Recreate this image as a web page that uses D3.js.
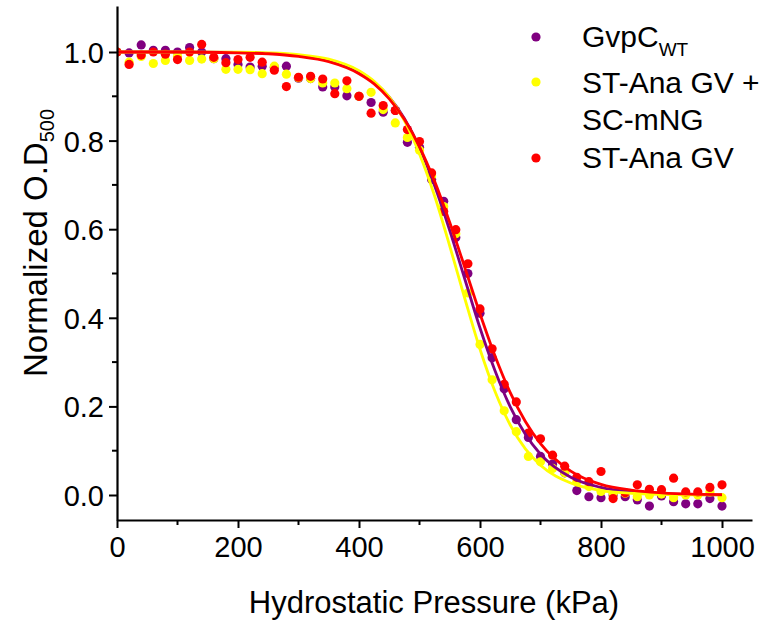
<!DOCTYPE html>
<html><head><meta charset="utf-8">
<script src="https://cdn.jsdelivr.net/npm/d3@7"></script>
<style>
html,body{margin:0;padding:0;background:#fff;}
svg text{font-family:"Liberation Sans",Arial,sans-serif;fill:#000;}
</style></head>
<body><svg id="c" width="767" height="622"></svg>
<script>
const pressure = d3.range(0, 1001, 20); // 0..1000 kPa, 20 kPa steps
const seriesNames = ["GvpC_WT", "ST-Ana GV + SC-mNG", "ST-Ana GV"];
const gvpcWT = [1.0,0.998,1.016,1.004,1.004,1.0,1.01,1.0,0.985,0.985,0.972,0.966,0.968,0.965,0.968,0.941,0.94,0.921,0.921,0.901,0.90,0.886,0.864,0.868,0.796,0.785,0.712,0.663,0.581,0.50,0.41,0.31,0.24,0.17,0.13,0.087,0.07,0.05,0.01,-0.004,-0.006,0.0,-0.004,-0.011,-0.025,-0.002,-0.015,-0.02,-0.02,-0.008,-0.025];
const stAnaMNG = [1.0,0.977,0.99,0.974,0.981,0.99,0.981,0.984,0.985,0.961,0.961,0.96,0.951,0.968,0.95,0.942,0.94,0.93,0.93,0.917,0.90,0.909,0.87,0.84,0.807,0.778,0.72,0.651,0.59,0.456,0.34,0.26,0.19,0.143,0.087,0.075,0.06,0.05,0.03,0.019,0.008,0.004,0.004,-0.004,0.0,0.002,-0.006,0.0,0.0,0.007,-0.006];
const stAna = [1.0,0.972,0.993,1.0,0.995,0.983,1.0,1.017,0.988,0.976,0.983,0.988,0.977,0.959,0.922,0.943,0.945,0.939,0.906,0.935,0.90,0.862,0.879,0.868,0.825,0.798,0.727,0.64,0.599,0.522,0.42,0.33,0.25,0.21,0.14,0.127,0.09,0.065,0.04,0.03,0.053,-0.008,0.005,0.023,0.013,0.012,0.038,0.007,0.007,0.017,0.023];
// fitted (Boltzmann) curves
const fitX = [0,100,200,250,300,350,400,425,450,475,500,525,550,575,600,625,650,675,700,750,800,850,900,950,1000];
const fitWT = [1.0,1.0,0.999,0.997,0.992,0.981,0.956,0.932,0.898,0.85,0.784,0.698,0.597,0.487,0.377,0.28,0.199,0.137,0.092,0.04,0.017,0.007,0.003,0.001,0.0005];
const fitMNG = [1.0,1.0,0.9995,0.998,0.994,0.984,0.958,0.934,0.898,0.845,0.77,0.675,0.562,0.443,0.329,0.233,0.158,0.104,0.067,0.027,0.01,0.004,0.0015,0.0005,0.0002];
const fitAna = [1.0,1.0,0.998,0.996,0.99,0.978,0.951,0.928,0.894,0.848,0.786,0.708,0.615,0.513,0.409,0.313,0.231,0.166,0.116,0.054,0.024,0.011,0.005,0.002,0.001];
const xTicks = [0,200,400,600,800,1000];
const xMinor = [100,300,500,700,900];
const yTicks = [0.0,0.2,0.4,0.6,0.8,1.0];
const yMinor = [0.1,0.3,0.5,0.7,0.9];
const colors = ["#800080","#FFFF00","#FF0000"];

const svg = d3.select("#c");
const x = d3.scaleLinear().domain([0,1000]).range([117,722]);
const y = d3.scaleLinear().domain([0,1]).range([495,52]);
const xMax = x.invert(752), yTop = y.invert(6), yBot = y.invert(520);

svg.append("clipPath").attr("id","clip").append("rect")
  .attr("x",x(0)).attr("y",y(yTop)).attr("width",x(xMax)-x(0)).attr("height",y(yBot)-y(yTop));

const plot = svg.append("g").attr("clip-path","url(#clip)");
const data = [gvpcWT, stAnaMNG, stAna];
data.forEach((s,k)=>{
  plot.append("g").selectAll("circle").data(s).join("circle")
    .attr("cx",(d,i)=>x(pressure[i])).attr("cy",d=>y(d)).attr("r",4.6)
    .attr("fill",colors[k]);
});
const fits = [fitWT, fitMNG, fitAna];
const line = d3.line().x((d,i)=>x(fitX[i])).y(d=>y(d)).curve(d3.curveMonotoneX);
fits.forEach((f,k)=>{
  plot.append("path").datum(f).attr("d",line).attr("fill","none")
    .attr("stroke",colors[k]).attr("stroke-width",2.8);
});

// axes
const xAxis = svg.append("g").attr("transform",`translate(0,520)`);
xAxis.call(d3.axisBottom(d3.scaleLinear().domain([0,xMax]).range([117,752])).tickValues(xTicks).tickSize(8).tickSizeOuter(0).tickPadding(6).tickFormat(d3.format("d")));
xAxis.call(g=>g.selectAll(".minor").data(xMinor).join("line").attr("class","minor")
  .attr("x1",d=>x(d)).attr("x2",d=>x(d)).attr("y1",0).attr("y2",5).attr("stroke","#000").attr("stroke-width",2));
const yAxis = svg.append("g").attr("transform",`translate(117,0)`);
yAxis.call(d3.axisLeft(d3.scaleLinear().domain([yBot,yTop]).range([520,6])).tickValues(yTicks).tickSize(8).tickSizeOuter(0).tickPadding(5).tickFormat(d3.format(".1f")));
yAxis.call(g=>g.selectAll(".minor").data(yMinor).join("line").attr("class","minor")
  .attr("y1",d=>y(d)).attr("y2",d=>y(d)).attr("x1",0).attr("x2",-5).attr("stroke","#000").attr("stroke-width",2));
[xAxis,yAxis].forEach(a=>{
  a.selectAll(".domain").attr("stroke","#000").attr("stroke-width",2.2);
  a.selectAll(".tick line").attr("stroke","#000").attr("stroke-width",2);
  a.selectAll(".tick text").attr("font-size",29).attr("font-family","Liberation Sans, Arial, sans-serif").attr("fill","#000");
});
xAxis.selectAll(".tick text").attr("dy","0.78em");
yAxis.selectAll(".tick text").attr("dy","0.36em");

svg.append("text").attr("x",434).attr("y",613).attr("text-anchor","middle").attr("font-size",31)
  .text("Hydrostatic Pressure (kPa)");
const yl = svg.append("text").attr("transform","translate(47,243) rotate(-90)").attr("text-anchor","middle").attr("font-size",33);
yl.append("tspan").text("Normalized O.D");
yl.append("tspan").attr("font-size",20).attr("dy",7).text("500");

// legend
const leg = svg.append("g");
const legY = [37,82,158];
legY.forEach((ly,k)=>leg.append("circle").attr("cx",536).attr("cy",ly).attr("r",4.6).attr("fill",colors[k]));
const t1 = leg.append("text").attr("x",582).attr("y",47).attr("font-size",30);
t1.append("tspan").text("GvpC");
t1.append("tspan").attr("font-size",19).attr("dy",9).text("WT");
leg.append("text").attr("x",582).attr("y",93).attr("font-size",30).text("ST-Ana GV +");
leg.append("text").attr("x",582).attr("y",130).attr("font-size",30).text("SC-mNG");
leg.append("text").attr("x",582).attr("y",168).attr("font-size",30).text("ST-Ana GV");
</script></body></html>
